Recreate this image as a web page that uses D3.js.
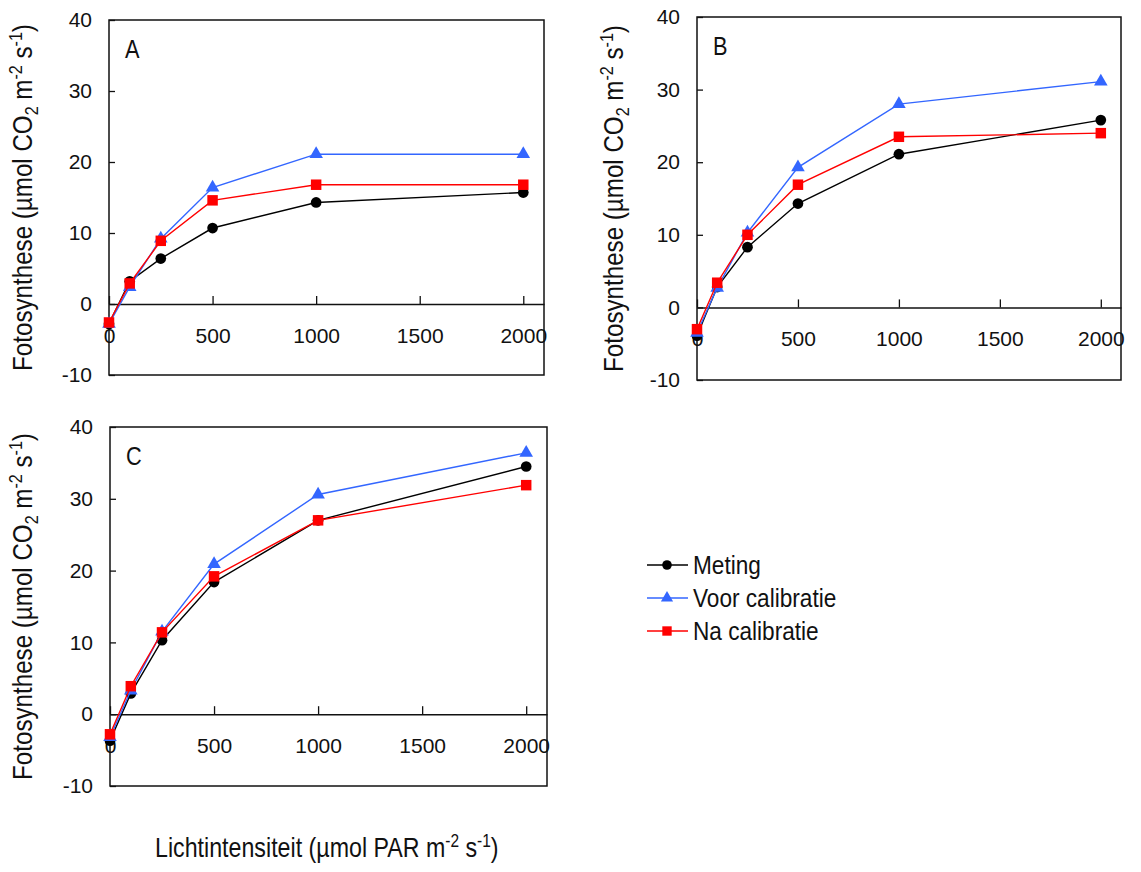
<!DOCTYPE html>
<html>
<head>
<meta charset="utf-8">
<script src="https://cdn.jsdelivr.net/npm/d3@7"></script>
<style>
  body { margin: 0; background: #fff; }
  svg { display: block; }
  text { font-family: "Liberation Sans", Arial, sans-serif; fill: #111; }
  .tick text { font-size: 21px; }
</style>
</head>
<body>
<div id="chart"></div>
<script>
// Light intensity levels (x)
const lightLevels = [0, 100, 250, 500, 1000, 2000];
const xTickValues = [0, 500, 1000, 1500, 2000];
const yTickValues = [-10, 0, 10, 20, 30, 40];

const seriesNames = ['Meting', 'Voor calibratie', 'Na calibratie'];
const panelLabels = ['A', 'B', 'C'];

// Panel A
const metingA = [-2.8, 3.2, 6.4, 10.7, 14.3, 15.7];
const voorA   = [-2.8, 2.4, 9.2, 16.4, 21.1, 21.1];
const naA     = [-2.6, 2.9, 8.9, 14.6, 16.8, 16.8];

// Panel B
const metingB = [-3.9, 2.8, 8.3, 14.3, 21.1, 25.8];
const voorB   = [-3.5, 2.7, 10.3, 19.3, 28.0, 31.1];
const naB     = [-3.0, 3.4, 10.0, 16.9, 23.5, 24.0];

// Panel C
const metingC = [-3.7, 2.9, 10.3, 18.4, 27.0, 34.5];
const voorC   = [-3.2, 3.3, 11.5, 20.9, 30.6, 36.4];
const naC     = [-2.8, 3.9, 11.4, 19.2, 27.0, 31.9];

const svgWidth = 1141;
const svgHeight = 872;

const svg = d3.select('#chart')
    .append('svg')
    .attr('width', svgWidth)
    .attr('height', svgHeight);

const colors = ['#000000', '#3366ff', '#ff0000'];
const symbols = [d3.symbolCircle, d3.symbolTriangle, d3.symbolSquare];
const symbolSizes = [90, 80, 110];

// the original font is narrower than Liberation Sans, so squeeze text horizontally
const narrow = 0.87;

// panel boxes
const panels = [
    { label: panelLabels[0], box: { left: 109, right: 544, top: 20, bottom: 375 }, data: [metingA, voorA, naA], titleX: 32 },
    { label: panelLabels[1], box: { left: 697, right: 1121, top: 17, bottom: 380 }, data: [metingB, voorB, naB], titleX: 623 },
    { label: panelLabels[2], box: { left: 110, right: 547, top: 427, bottom: 786 }, data: [metingC, voorC, naC], titleX: 32 }
];

// y title with sub/superscripts
function yTitle(sel) {
    sel.append('tspan').text('Fotosynthese (µmol CO');
    sel.append('tspan').attr('dy', 6).attr('font-size', '18px').text('2');
    sel.append('tspan').attr('dy', -6).text(' m');
    sel.append('tspan').attr('dy', -10).attr('font-size', '18px').text('-2');
    sel.append('tspan').attr('dy', 10).text(' s');
    sel.append('tspan').attr('dy', -10).attr('font-size', '18px').text('-1');
    sel.append('tspan').attr('dy', 10).text(')');
}

panels.forEach(p => {
    const b = p.box;
    const x = d3.scaleLinear().domain([0, 2100]).range([b.left, b.right]);
    const y = d3.scaleLinear().domain([-10, 40]).range([b.bottom, b.top]);

    const g = svg.append('g').attr('class', 'panel');

    // frame
    g.append('rect')
        .attr('x', b.left)
        .attr('y', b.top)
        .attr('width', b.right - b.left)
        .attr('height', b.bottom - b.top)
        .attr('fill', 'none')
        .attr('stroke', '#111')
        .attr('stroke-width', 1.5);

    // Y axis
    const yAxis = d3.axisLeft(y)
        .tickValues(yTickValues)
        .tickFormat(d => String(d))
        .tickSizeInner(-6)
        .tickSizeOuter(0)
        .tickPadding(17);
    const yg = g.append('g')
        .attr('transform', 'translate(' + b.left + ',0)')
        .call(yAxis);
    yg.select('.domain').remove();
    yg.selectAll('.tick line').attr('stroke', '#111').attr('stroke-width', 1.3);

    // X axis on the zero line
    const xAxis = d3.axisBottom(x)
        .tickValues(xTickValues)
        .tickFormat(d => String(d))
        .tickSizeInner(-8)
        .tickSizeOuter(0)
        .tickPadding(24);
    const xg = g.append('g')
        .attr('transform', 'translate(0,' + y(0) + ')')
        .call(xAxis);
    xg.select('.domain').attr('stroke', '#111').attr('stroke-width', 1.5);
    xg.selectAll('.tick line').attr('stroke', '#111').attr('stroke-width', 1.3);

    // series
    const line = d3.line()
        .x((d, i) => x(lightLevels[i]))
        .y(d => y(d));

    p.data.forEach((vals, si) => {
        g.append('path')
            .datum(vals)
            .attr('d', line)
            .attr('fill', 'none')
            .attr('stroke', colors[si])
            .attr('stroke-width', 1.4);

        g.append('g')
            .selectAll('path')
            .data(vals)
            .join('path')
            .attr('transform', (d, i) => 'translate(' + x(lightLevels[i]) + ',' + y(d) + ')')
            .attr('d', d3.symbol().type(symbols[si]).size(symbolSizes[si]))
            .attr('fill', colors[si]);
    });

    // panel letter
    g.append('text')
        .attr('transform', 'translate(' + (b.left + 16) + ',' + (b.top + 38) + ') scale(' + narrow + ',1)')
        .style('font-size', '25px')
        .text(p.label);

    // Y-axis title
    g.append('text')
        .attr('transform', 'translate(' + p.titleX + ',' + ((b.top + b.bottom) / 2) + ') rotate(-90) scale(0.895,1)')
        .style('text-anchor', 'middle')
        .style('font-size', '27px')
        .call(yTitle);
});

// X-axis title
const xt = svg.append('text')
    .attr('transform', 'translate(155,857) scale(0.86,1)')
    .style('font-size', '27px');
xt.append('tspan').text('Lichtintensiteit (µmol PAR m');
xt.append('tspan').attr('dy', -10).attr('font-size', '18px').text('-2');
xt.append('tspan').attr('dy', 10).text(' s');
xt.append('tspan').attr('dy', -10).attr('font-size', '18px').text('-1');
xt.append('tspan').attr('dy', 10).text(')');

// Legend
const legend = svg.append('g').attr('class', 'legend');
seriesNames.forEach((name, i) => {
    const ly = 565 + i * 33;
    legend.append('line')
        .attr('x1', 647).attr('x2', 688)
        .attr('y1', ly).attr('y2', ly)
        .attr('stroke', colors[i])
        .attr('stroke-width', 1.4);
    legend.append('path')
        .attr('transform', 'translate(667,' + ly + ')')
        .attr('d', d3.symbol().type(symbols[i]).size(symbolSizes[i] * 0.8))
        .attr('fill', colors[i]);
    legend.append('text')
        .attr('transform', 'translate(693,' + (ly + 9) + ') scale(' + narrow + ',1)')
        .style('font-size', '26px')
        .text(name);
});
</script>
</body>
</html>
